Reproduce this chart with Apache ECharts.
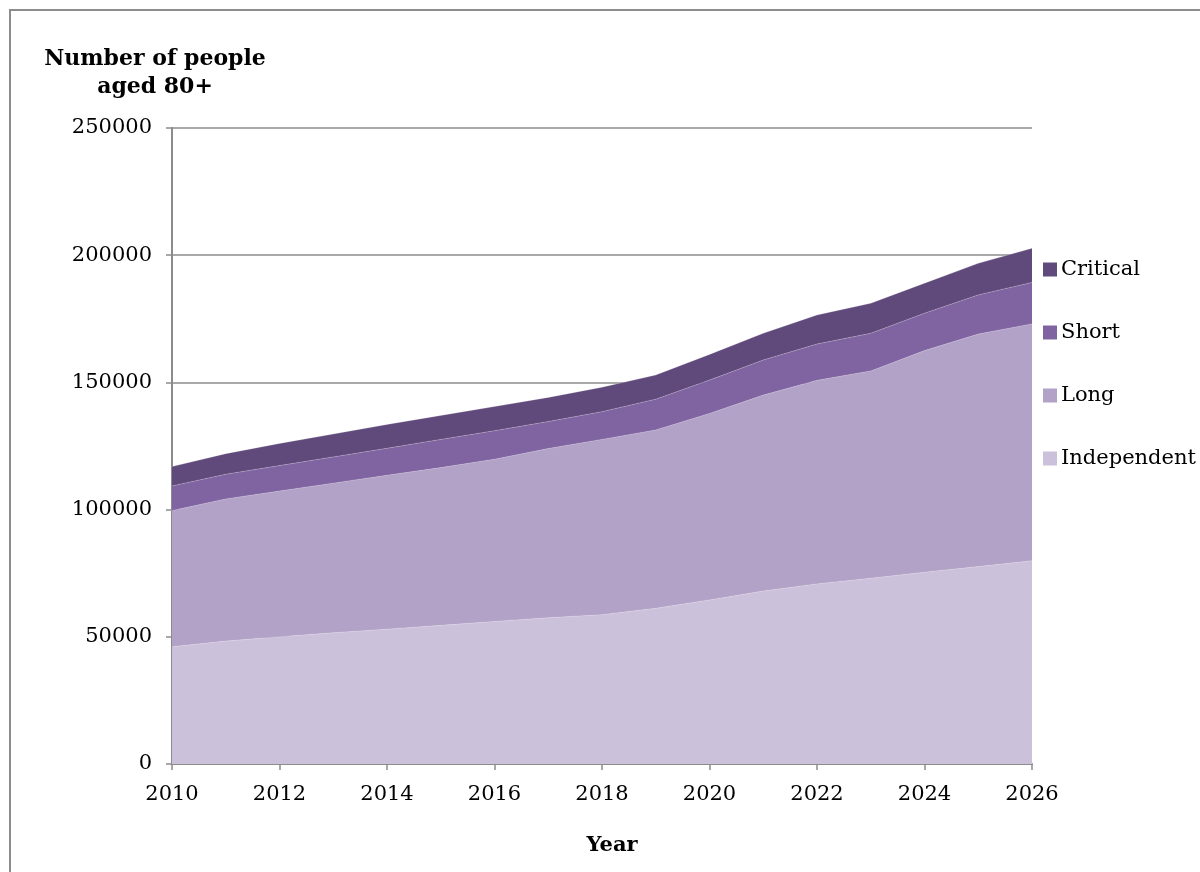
<!DOCTYPE html>
<html>
<head>
<meta charset="utf-8">
<script src="https://cdn.jsdelivr.net/npm/echarts@6/dist/echarts.min.js"></script>
<style>
  html, body { margin: 0; padding: 0; background: #fff; }
  #chart { width: 1200px; height: 872px; }
</style>
</head>
<body>
<div id="chart"></div>
<script>
// data
const years = ["2010", "2011", "2012", "2013", "2014", "2015", "2016", "2017", "2018",
  "2019", "2020", "2021", "2022", "2023", "2024", "2025", "2026"];
const independent = [46100, 48300, 50000, 51600, 53000, 54500, 56000, 57500, 58700,
  61200, 64500, 68000, 70800, 73000, 75400, 77600, 79900];
const longCare = [53500, 55900, 57300, 58800, 60500, 62000, 63800, 66500, 68900,
  70100, 73300, 77000, 80000, 81500, 87100, 91400, 93100];
const shortCare = [9700, 9700, 10000, 10300, 10600, 11100, 11200, 10600, 10900,
  12100, 13100, 13800, 14300, 14800, 14700, 15400, 16300];
const critical = [7600, 8100, 8700, 9000, 9400, 9400, 9500, 9500, 9600,
  9500, 10100, 10500, 11400, 11800, 11800, 12400, 13400];

const font = "DejaVu Serif";

function areaSeries(name, data, color) {
  return {
    name: name,
    type: "line",
    stack: "total",
    data: data,
    symbol: "none",
    smooth: false,
    lineStyle: { width: 0.6, color: "rgba(255,255,255,0.35)" },
    areaStyle: { color: color, opacity: 1 },
    itemStyle: { color: color },
  };
}

let chart = echarts.init(document.getElementById("chart"));
chart.setOption({
  animation: false,
  grid: { left: 172, right: 168, top: 128, bottom: 108 },
  xAxis: {
    type: "category",
    data: years,
    boundaryGap: false,
    axisLine: { lineStyle: { color: "#8c8c8c", width: 2 } },
    axisTick: { show: true, interval: 1, length: 6, lineStyle: { color: "#8c8c8c", width: 1.5 } },
    axisLabel: { interval: 1, color: "#000", fontFamily: font, fontSize: 21, margin: 20 },
  },
  yAxis: {
    type: "value",
    min: 0,
    max: 250000,
    interval: 50000,
    axisLine: { show: true, lineStyle: { color: "#8c8c8c", width: 2 } },
    axisTick: { show: true, length: 6, lineStyle: { color: "#8c8c8c", width: 1.5 } },
    axisLabel: {
      color: "#000",
      fontFamily: font,
      fontSize: 21,
      margin: 20,
      formatter: (v) => String(v),
    },
    splitLine: { lineStyle: { color: "#8c8c8c", width: 1.5 } },
  },
  legend: {
    orient: "vertical",
    left: 1038,
    top: 254,
    icon: "rect",
    itemWidth: 14,
    itemHeight: 14,
    itemGap: 42,
    textStyle: { color: "#000", fontFamily: font, fontSize: 21, padding: [0, 0, 0, -1] },
    data: ["Critical", "Short", "Long", "Independent"],
  },
  series: [
    areaSeries("Independent", independent, "#ccc1da"),
    areaSeries("Long", longCare, "#b2a2c7"),
    areaSeries("Short", shortCare, "#8064a2"),
    areaSeries("Critical", critical, "#604a7b"),
  ],
  graphic: [
    {
      type: "rect",
      shape: { x: 10, y: 10, width: 1400, height: 1000 },
      style: { fill: "none", stroke: "#8c8c8c", lineWidth: 2 },
      silent: true,
    },
    {
      type: "text",
      x: 155,
      y: 45,
      style: {
        text: "Number of people\naged 80+",
        align: "center",
        fontFamily: font,
        fontSize: 22,
        fontWeight: "bold",
        lineHeight: 28,
        fill: "#000",
      },
    },
    {
      type: "text",
      x: 612,
      y: 835,
      style: { text: "Year", align: "center", fontFamily: font, fontSize: 21, fontWeight: "bold", fill: "#000" },
    },
  ],
});
</script>
</body>
</html>
